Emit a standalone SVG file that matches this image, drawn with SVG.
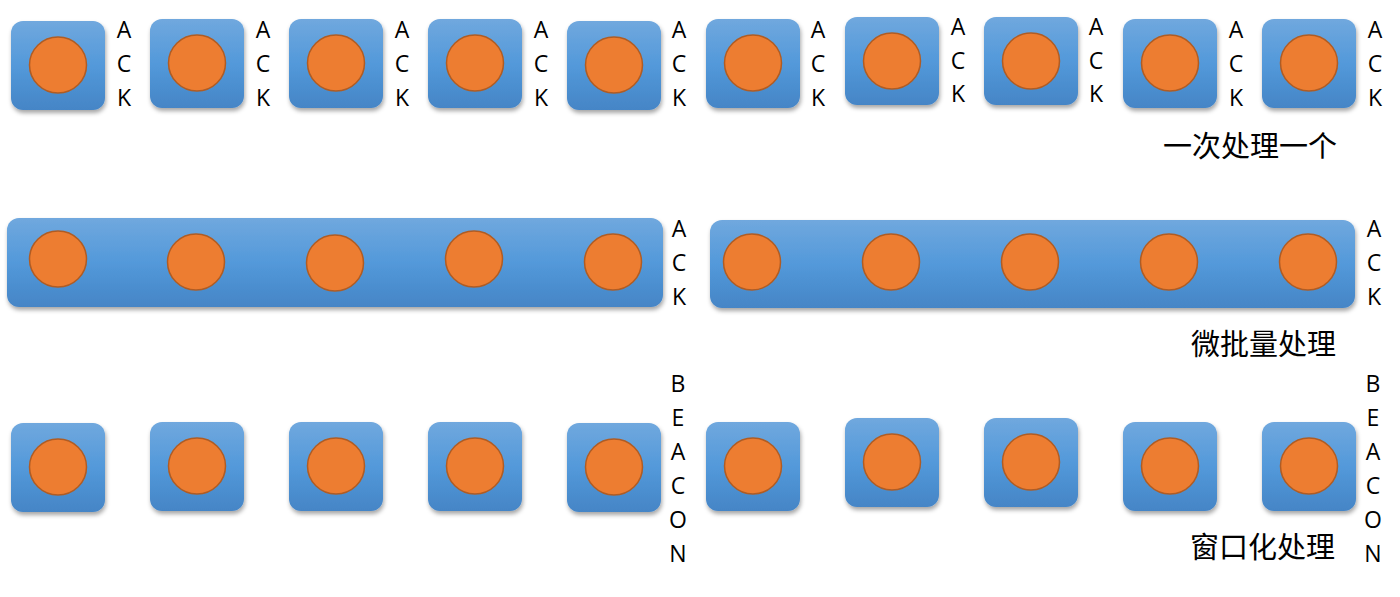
<svg xmlns="http://www.w3.org/2000/svg" width="1400" height="597" viewBox="0 0 1400 597">
<defs>
<linearGradient id="bg" x1="0" y1="0" x2="0" y2="1">
<stop offset="0" stop-color="#70a8de"/>
<stop offset="0.5" stop-color="#5399da"/>
<stop offset="1" stop-color="#4585c6"/>
</linearGradient>
<filter id="sh" x="-20%" y="-20%" width="140%" height="150%">
<feDropShadow dx="1" dy="3" stdDeviation="2" flood-color="#000" flood-opacity="0.35"/>
</filter>
</defs>
<style>
.box{fill:url(#bg);filter:url(#sh)}
.dot{fill:#ed7d31;stroke:#b05c23;stroke-width:1.5}
.lt{font-family:"Open Sans","Liberation Sans",sans-serif;font-size:23px;fill:#000;text-anchor:middle}
.cap{font-family:"Noto Sans CJK SC","Noto Sans",sans-serif;font-size:29px;fill:#000}
</style>
<g id="row1">
<g id="r1n1"><rect class="box" x="11" y="21" width="94" height="89" rx="12"/><ellipse class="dot" cx="58" cy="65" rx="28.5" ry="28"/></g>
<g id="r1n2"><rect class="box" x="150" y="19" width="94" height="89" rx="12"/><ellipse class="dot" cx="197" cy="63" rx="28.5" ry="28"/></g>
<g id="r1n3"><rect class="box" x="289" y="19" width="94" height="89" rx="12"/><ellipse class="dot" cx="336" cy="63" rx="28.5" ry="28"/></g>
<g id="r1n4"><rect class="box" x="428" y="19" width="94" height="89" rx="12"/><ellipse class="dot" cx="475" cy="63" rx="28.5" ry="28"/></g>
<g id="r1n5"><rect class="box" x="567" y="21" width="94" height="89" rx="12"/><ellipse class="dot" cx="614" cy="65" rx="28.5" ry="28"/></g>
<g id="r1n6"><rect class="box" x="706" y="19" width="94" height="89" rx="12"/><ellipse class="dot" cx="753" cy="63" rx="28.5" ry="28"/></g>
<g id="r1n7"><rect class="box" x="845" y="17" width="94" height="88" rx="12"/><ellipse class="dot" cx="892" cy="61" rx="28.5" ry="28"/></g>
<g id="r1n8"><rect class="box" x="984" y="17" width="94" height="88" rx="12"/><ellipse class="dot" cx="1031" cy="61" rx="28.5" ry="28"/></g>
<g id="r1n9"><rect class="box" x="1123" y="19" width="94" height="89" rx="12"/><ellipse class="dot" cx="1170" cy="63" rx="28.5" ry="28"/></g>
<g id="r1n10"><rect class="box" x="1262" y="19" width="94" height="89" rx="12"/><ellipse class="dot" cx="1309" cy="63" rx="28.5" ry="28"/></g>
</g>
<g id="row1-labels" class="lt">
<text x="124" y="38">A</text><text x="124" y="72">C</text><text x="124" y="106">K</text>
<text x="263" y="38">A</text><text x="263" y="72">C</text><text x="263" y="106">K</text>
<text x="402" y="38">A</text><text x="402" y="72">C</text><text x="402" y="106">K</text>
<text x="541" y="38">A</text><text x="541" y="72">C</text><text x="541" y="106">K</text>
<text x="679" y="38">A</text><text x="679" y="72">C</text><text x="679" y="106">K</text>
<text x="818" y="38">A</text><text x="818" y="72">C</text><text x="818" y="106">K</text>
<text x="958" y="35">A</text><text x="958" y="69">C</text><text x="958" y="102">K</text>
<text x="1096" y="35">A</text><text x="1096" y="69">C</text><text x="1096" y="102">K</text>
<text x="1236" y="38">A</text><text x="1236" y="72">C</text><text x="1236" y="106">K</text>
<text x="1375" y="38">A</text><text x="1375" y="72">C</text><text x="1375" y="106">K</text>
</g>
<text class="cap" x="1163" y="157">一次处理一个</text>
<g id="row2">
<g id="r2n1"><rect class="box" x="7" y="218" width="656" height="89" rx="12"/>
<ellipse class="dot" cx="58" cy="259" rx="28.5" ry="28"/>
<ellipse class="dot" cx="196" cy="262" rx="28.5" ry="28"/>
<ellipse class="dot" cx="335" cy="263" rx="28.5" ry="28"/>
<ellipse class="dot" cx="474" cy="259" rx="28.5" ry="28"/>
<ellipse class="dot" cx="613" cy="262" rx="28.5" ry="28"/></g>
<g id="r2n2"><rect class="box" x="710" y="220" width="645" height="88" rx="12"/>
<ellipse class="dot" cx="752" cy="262" rx="28.5" ry="28"/>
<ellipse class="dot" cx="891" cy="262" rx="28.5" ry="28"/>
<ellipse class="dot" cx="1030" cy="262" rx="28.5" ry="28"/>
<ellipse class="dot" cx="1169" cy="262" rx="28.5" ry="28"/>
<ellipse class="dot" cx="1308" cy="262" rx="28.5" ry="28"/></g>
</g>
<g id="row2-labels" class="lt">
<text x="679" y="237">A</text><text x="679" y="271">C</text><text x="679" y="305">K</text>
<text x="1374" y="237">A</text><text x="1374" y="271">C</text><text x="1374" y="305">K</text>
</g>
<text class="cap" x="1191" y="355">微批量处理</text>
<g id="row3">
<g id="r3n1"><rect class="box" x="11" y="423" width="94" height="89" rx="12"/><ellipse class="dot" cx="58" cy="467" rx="28.5" ry="28"/></g>
<g id="r3n2"><rect class="box" x="150" y="422" width="94" height="89" rx="12"/><ellipse class="dot" cx="197" cy="466" rx="28.5" ry="28"/></g>
<g id="r3n3"><rect class="box" x="289" y="422" width="94" height="89" rx="12"/><ellipse class="dot" cx="336" cy="466" rx="28.5" ry="28"/></g>
<g id="r3n4"><rect class="box" x="428" y="422" width="94" height="89" rx="12"/><ellipse class="dot" cx="475" cy="466" rx="28.5" ry="28"/></g>
<g id="r3n5"><rect class="box" x="567" y="423" width="94" height="89" rx="12"/><ellipse class="dot" cx="614" cy="467" rx="28.5" ry="28"/></g>
<g id="r3n6"><rect class="box" x="706" y="422" width="94" height="89" rx="12"/><ellipse class="dot" cx="753" cy="466" rx="28.5" ry="28"/></g>
<g id="r3n7"><rect class="box" x="845" y="418" width="94" height="89" rx="12"/><ellipse class="dot" cx="892" cy="462" rx="28.5" ry="28"/></g>
<g id="r3n8"><rect class="box" x="984" y="418" width="94" height="89" rx="12"/><ellipse class="dot" cx="1031" cy="462" rx="28.5" ry="28"/></g>
<g id="r3n9"><rect class="box" x="1123" y="422" width="94" height="89" rx="12"/><ellipse class="dot" cx="1170" cy="466" rx="28.5" ry="28"/></g>
<g id="r3n10"><rect class="box" x="1262" y="422" width="94" height="89" rx="12"/><ellipse class="dot" cx="1309" cy="466" rx="28.5" ry="28"/></g>
</g>
<g id="row3-labels" class="lt">
<text x="678" y="392">B</text><text x="678" y="426">E</text><text x="678" y="460">A</text><text x="678" y="494">C</text><text x="678" y="528">O</text><text x="678" y="562">N</text>
<text x="1373" y="392">B</text><text x="1373" y="426">E</text><text x="1373" y="460">A</text><text x="1373" y="494">C</text><text x="1373" y="528">O</text><text x="1373" y="562">N</text>
</g>
<text class="cap" x="1190" y="558">窗口化处理</text>
</svg>
